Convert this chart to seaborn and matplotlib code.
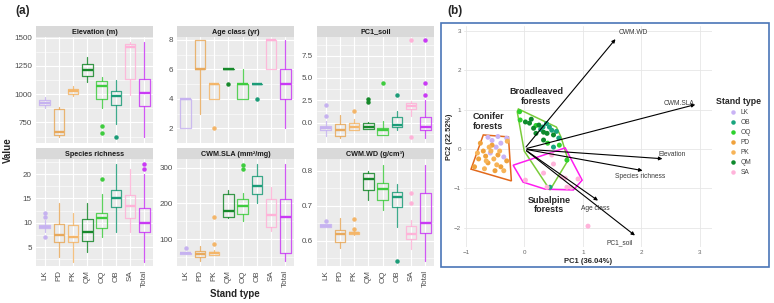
import numpy as np
import pandas as pd
import seaborn as sns
import matplotlib.pyplot as plt
from matplotlib.patches import Polygon, Rectangle

# ---------------- data: panel (a) box summaries ----------------
stands = ['LK', 'PD', 'PK', 'QM', 'OQ', 'OB', 'SA', 'Total']
box_cols = ['#C6B2F0', '#E8A95C', '#F4B66A', '#17892B', '#3FCC3F', '#1C9C78', '#FFB2D8', '#C93AF5']

# (lower whisker, q1, median, q3, upper whisker)
elev = [(875, 900, 925, 945, 975), (625, 640, 667, 865, 890), (980, 1005, 1025, 1045, 1068),
        (1105, 1160, 1215, 1265, 1325), (880, 960, 1075, 1115, 1150), (740, 900, 985, 1030, 1125),
        (990, 1135, 1415, 1440, 1465), (620, 895, 1010, 1135, 1465)]
elev_out = [[], [], [], [], [715, 655], [625], [], []]

age = [(2, 2, 4, 4, 4), (3, 6, 6, 8, 8), (4, 4, 5, 5, 5), (6, 6, 6, 6, 6),
       (4, 4, 5, 5, 6), (5, 5, 5, 5, 5), (6, 6, 8, 8, 8), (2, 4, 5, 6, 8)]
age_out = [[], [], [2], [5], [], [4], [], []]

soil = [(-1.55, -0.87, -0.6, -0.35, 0.15), (-1.7, -1.55, -0.8, -0.2, 0.85), (-0.8, -0.8, -0.55, -0.1, 0.45),
        (-0.7, -0.68, -0.5, 0.0, 0.05), (-1.4, -1.36, -0.8, -0.6, 0.15), (-0.8, -0.53, -0.3, 0.6, 1.3),
        (0.7, 1.5, 1.85, 2.2, 2.45), (-1.75, -0.8, -0.55, 0.6, 2.5)]
soil_out = [[0.7, 2.0], [], [1.3], [2.3, 2.6], [4.4], [3.1], [-1.65, 9.25], [3.1, 4.4, 9.25]]

rich = [(8, 8.9, 9.1, 9.6, 10.5), (3, 6, 7.5, 9.7, 14), (2, 6, 7, 9.5, 12), (4, 6.3, 8, 10.7, 14),
        (7, 9, 11, 12, 16), (8, 13.2, 15, 16.8, 22), (8, 11, 13.5, 15.8, 21), (2, 8, 10, 13, 20)]
rich_out = [[12, 11.2, 7], [], [], [], [19], [], [], [21, 22]]

sla = [(58, 59, 61, 62, 63), (40, 51, 58, 67, 81), (56, 56, 61, 65, 70), (158, 163, 179, 225, 238),
       (152, 170, 194, 213, 228), (200, 226, 249, 277, 310), (123, 135, 168, 212, 245), (40, 61, 161, 212, 310)]
sla_out = [[76], [], [87, 161], [], [295, 307], [], [], []]

wd = [(0.64, 0.64, 0.643, 0.647, 0.648), (0.58, 0.597, 0.618, 0.63, 0.665), (0.615, 0.618, 0.621, 0.624, 0.626),
      (0.716, 0.745, 0.778, 0.795, 0.80), (0.688, 0.716, 0.748, 0.766, 0.818), (0.64, 0.697, 0.726, 0.738, 0.761),
      (0.575, 0.605, 0.618, 0.643, 0.659), (0.54, 0.621, 0.65, 0.737, 0.818)]
wd_out = [[0.657], [], [0.633, 0.661], [], [], [0.54], [0.709, 0.737], []]

# ---------------- data: panel (b) PCA ----------------
lk_x = [-0.62, -0.55, -0.48, -0.40, -0.35, -0.58, -0.30, -0.45]
lk_y = [0.30, 0.22, 0.05, 0.15, -0.20, -0.10, 0.28, 0.32]
pd_x = [-0.85, -0.78, -0.70, -0.62, -0.55, -0.45, -0.40, -0.30, -0.75, -0.50, -0.66]
pd_y = [-0.45, -0.25, -0.05, -0.35, 0.10, -0.15, -0.45, -0.30, 0.15, -0.55, -0.18]
pk_x = [-0.80, -0.68, -0.60, -0.52, -0.42, -0.35, -0.29, -0.65, -0.47, -0.57]
pk_y = [-0.10, -0.50, 0.05, -0.25, -0.05, -0.55, 0.20, -0.30, -0.40, -0.05]
qm_x = [0.02, 0.09, 0.16, 0.25, 0.33, 0.39, 0.50, 0.33, 0.20, 0.12]
qm_y = [0.69, 0.66, 0.53, 0.61, 0.43, 0.40, 0.36, 0.23, 0.40, 0.76]
ob_x = [0.32, 0.43, 0.47, 0.59, 0.50, 0.44, 0.38, 0.55, 0.28]
ob_y = [0.56, 0.56, 0.48, 0.28, 0.05, -0.97, 0.65, 0.45, 0.50]
oq_x = [-0.08, -0.07, 0.73, 0.60, 0.20, 0.40]
oq_y = [0.95, 0.74, -0.28, 0.10, 0.60, 0.15]
sa_x = [0.02, 0.33, 0.39, 0.50, 0.47, 0.70, 0.73, 0.80, 0.92, 0.64, 1.09]
sa_y = [-0.79, -0.61, -0.97, -0.38, -0.15, -0.74, -0.97, -0.97, -0.76, -0.71, -1.96]

conifer_x = [-0.70, -0.27, -0.22, -0.91]
conifer_y = [0.36, 0.31, -0.81, -0.51]
broad_x = [-0.10, 0.55, 0.63, 0.75, 0.44, 0.0, -0.12]
broad_y = [1.02, 0.56, 0.30, -0.28, -1.04, -0.05, 0.95]
subalp_x = [-0.19, 0.70, 0.99, 0.84, 0.36, -0.02]
subalp_y = [-0.41, 0.03, -0.79, -1.04, -1.02, -0.84]

arrow_names = ['CWM.WD', 'CWM.SLA', 'Elevation', 'Species richness', 'Age class', 'PC1_soil']
arrow_x = [1.59, 2.97, 2.41, 2.07, 1.30, 1.93]
arrow_y = [2.85, 1.15, -0.25, -0.56, -1.35, -2.24]
lab_x = [1.62, 2.65, 2.53, 1.98, 1.22, 1.64]
lab_y = [2.96, 1.16, -0.13, -0.69, -1.50, -2.37]

pca_order = ['LK', 'OB', 'OQ', 'PD', 'PK', 'QM', 'SA']
pca_cols = ['#C9B3F5', '#18A57E', '#2ED12E', '#F0A23C', '#F7B458', '#0E8A2C', '#FFB3DA']

# ---------------- figure ----------------
sns.set_theme(style='darkgrid')
plt.rcParams['font.family'] = ['Liberation Sans', 'DejaVu Sans']
W, H = 774, 303
fig = plt.figure(figsize=(W / 100, H / 100), dpi=100)


def px(l, t, w, h):
    return [l / W, 1 - (t + h) / H, w / W, h / H]


panels = [
    ('Elevation (m)', elev, elev_out, (568, 1505), [750, 1000, 1250, 1500], ['750', '1000', '1250', '1500']),
    ('Age class (yr)', age, age_out, (1.65, 8.2), [2, 4, 6, 8], ['2', '4', '6', '8']),
    ('PC1_soil', soil, soil_out, (-2.3, 9.6), [0, 2.5, 5, 7.5], ['0.0', '2.5', '5.0', '7.5']),
    ('Species richness', rich, rich_out, (1.1, 23.1), [5, 10, 15, 20], ['5', '10', '15', '20']),
    ('CWM.SLA (mm²/mg)', sla, sla_out, (25, 324), [100, 200, 300], ['100', '200', '300']),
    ('CWM.WD (g/cm³)', wd, wd_out, (0.527, 0.834), [0.6, 0.7, 0.8], ['0.6', '0.7', '0.8']),
]
lefts = [36, 177, 317]
rows = [(26, 37, 106), (148, 159, 107)]

for i, (title, st, outs, ylim, yt, ytl) in enumerate(panels):
    r, c = divmod(i, 3)
    strip_t, top, hgt = rows[r]
    ax = fig.add_axes(px(lefts[c], top, 117, hgt))
    ax.set_facecolor('#EBEBEB')
    stats = [dict(whislo=s[0], q1=s[1], med=s[2], q3=s[3], whishi=s[4], fliers=o) for s, o in zip(st, outs)]
    art = ax.bxp(stats, positions=range(len(stands)), widths=0.72, showcaps=False, patch_artist=False)
    for k, col in enumerate(box_cols):
        art['boxes'][k].set(color=col, linewidth=0.9, alpha=0.85)
        art['medians'][k].set(color=col, linewidth=1.7)
        for wsk in art['whiskers'][2 * k:2 * k + 2]:
            wsk.set(color=col, linewidth=0.9, alpha=0.85)
        art['fliers'][k].set(marker='o', markersize=2.2, markerfacecolor=col, markeredgecolor=col)
    ax.set_xlim(-0.6, 7.6)
    ax.set_ylim(*ylim)
    ax.set_yticks(yt)
    ax.set_yticklabels(ytl)
    step = yt[1] - yt[0]
    minors = np.arange(yt[0] - step / 2, ylim[1], step)
    ax.set_yticks(minors, minor=True)
    ax.grid(True, which='major', color='white', linewidth=0.8)
    ax.grid(True, which='minor', axis='y', color='white', linewidth=0.4)
    ax.set_xticks(range(len(stands)))
    if r == 1:
        ax.set_xticklabels(stands, rotation=90)
    else:
        ax.set_xticklabels([])
    ax.tick_params(axis='both', which='major', length=2, width=0.5, color='#333333',
                   labelsize=5.8, labelcolor='#4D4D4D', pad=1)
    ax.tick_params(axis='y', which='minor', length=0)
    for sp in ax.spines.values():
        sp.set_visible(False)
    sax = fig.add_axes(px(lefts[c], strip_t, 117, top - strip_t))
    sax.set_facecolor('#D9D9D9')
    sax.set_xticks([])
    sax.set_yticks([])
    for sp in sax.spines.values():
        sp.set_visible(False)
    sax.text(0.5, 0.45, title, ha='center', va='center', fontsize=5.2, fontweight='bold', color='#1A1A1A')

fig.text(23 / W, 1 - 11 / H, '(a)', fontsize=8.5, fontweight='bold', ha='center', va='center')
fig.text(8 / W, 1 - 150 / H, 'Value', rotation=90, fontsize=7, fontweight='bold', ha='center', va='center')
fig.text(235 / W, 1 - 294 / H, 'Stand type', fontsize=7, fontweight='bold', ha='center', va='center')

# ---------------- panel (b) ----------------
fig.text(455 / W, 1 - 11 / H, '(b)', fontsize=8.5, fontweight='bold', ha='center', va='center')
fig.add_artist(Rectangle((441 / W, 1 - 267 / H), (769 - 441) / W, (267 - 23) / H,
                         transform=fig.transFigure, fill=False, ec='#4A76B8', lw=1.2))

axb = fig.add_axes(px(464, 26, 248, 221))
axb.set_facecolor('white')

groups = {'LK': (lk_x, lk_y), 'OB': (ob_x, ob_y), 'OQ': (oq_x, oq_y), 'PD': (pd_x, pd_y),
          'PK': (pk_x, pk_y), 'QM': (qm_x, qm_y), 'SA': (sa_x, sa_y)}
df = pd.concat([pd.DataFrame({'PC1': xs, 'PC2': ys, 'Stand type': g}) for g, (xs, ys) in groups.items()])

for hx, hy, col in [(conifer_x, conifer_y, '#E2691B'), (broad_x, broad_y, '#7ACC3A'),
                    (subalp_x, subalp_y, '#FF1CF0')]:
    axb.add_patch(Polygon(list(zip(hx, hy)), closed=True, fill=False, ec=col, lw=1.1, zorder=2))

sns.scatterplot(data=df, x='PC1', y='PC2', hue='Stand type', hue_order=pca_order,
                palette=pca_cols, s=13, edgecolor='none', ax=axb, zorder=3)

for name, ax_, ay_, lx, ly in zip(arrow_names, arrow_x, arrow_y, lab_x, lab_y):
    axb.annotate('', xy=(ax_, ay_), xytext=(0, 0),
                 arrowprops=dict(arrowstyle='-|>', color='black', lw=0.8, mutation_scale=5), zorder=4)
    axb.text(lx, ly, name, fontsize=4.8, color='#3A3A3A', ha='left' if name == 'CWM.WD' else 'center',
             va='center', zorder=5)

for txt, tx, ty in [('Broadleaved\nforests', 0.2, 1.33), ('Conifer\nforests', -0.62, 0.70),
                    ('Subalpine\nforests', 0.43, -1.42)]:
    axb.text(tx, ty, txt, fontsize=6.5, fontweight='bold', ha='center', va='center', linespacing=1.1, zorder=5)

axb.set_xlim(-1.03, 3.21)
axb.set_ylim(-2.49, 3.13)
axb.set_xticks([-1, 0, 1, 2, 3])
axb.set_yticks([-2, -1, 0, 1, 2, 3])
axb.grid(True, color='#E6E6E6', linewidth=0.6)
axb.tick_params(length=0, labelsize=4.5, labelcolor='#666666', pad=2)
for sp in axb.spines.values():
    sp.set_visible(False)
axb.set_xlabel('PC1 (36.04%)', fontsize=5.5, fontweight='bold', labelpad=2)
axb.set_ylabel('PC2 (22.52%)', fontsize=5.3, fontweight='bold', labelpad=1)

leg = axb.legend(loc='upper left', bbox_to_anchor=(713 / W, 1 - 94 / H), bbox_transform=fig.transFigure,
                 frameon=False, title='Stand type', fontsize=4.8, labelspacing=0.45,
                 handletextpad=0.2, markerscale=0.9, borderpad=0)
leg.get_title().set_fontweight('bold')
leg.get_title().set_fontsize(6.3)
for t in leg.get_texts():
    t.set_color('#444444')

fig.savefig('out.png', dpi=100)
